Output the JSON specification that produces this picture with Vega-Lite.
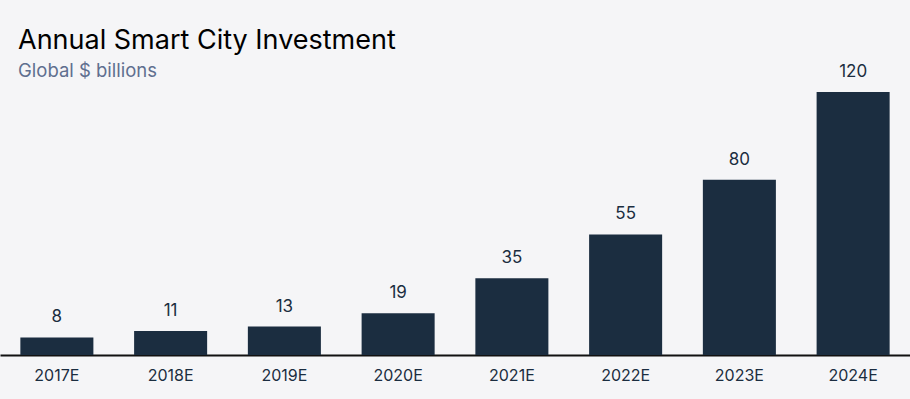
{
  "$schema": "https://vega.github.io/schema/vega-lite/v6.json",
  "width": 910,
  "height": 263,
  "autosize": {"type": "none"},
  "padding": {"left": 0, "right": 0, "top": 92, "bottom": 44},
  "background": "#f5f5f7",
  "config": {"view": {"stroke": null}, "font": "Inter"},
  "title": {
    "text": "Annual Smart City Investment",
    "subtitle": "Global $ billions",
    "anchor": "start",
    "frame": "group",
    "dx": 18,
    "offset": -18,
    "font": "Inter",
    "fontSize": 27,
    "fontWeight": "normal",
    "color": "#000000",
    "subtitleFont": "Inter",
    "subtitleFontSize": 18.5,
    "subtitleColor": "#5f6f8f",
    "subtitlePadding": 7
  },
  "data": {
    "values": [
      {"year": "2017E", "value": 8},
      {"year": "2018E", "value": 11},
      {"year": "2019E", "value": 13},
      {"year": "2020E", "value": 19},
      {"year": "2021E", "value": 35},
      {"year": "2022E", "value": 55},
      {"year": "2023E", "value": 80},
      {"year": "2024E", "value": 120}
    ]
  },
  "encoding": {
    "x": {
      "field": "year",
      "type": "nominal",
      "sort": null,
      "scale": {"paddingInner": 0.358, "paddingOuter": 0.179},
      "axis": {
        "title": null,
        "ticks": false,
        "labelAngle": 0,
        "labelPadding": 12,
        "labelFontSize": 16,
        "labelColor": "#1b2d40",
        "domainColor": "#111111",
        "domainWidth": 2
      }
    },
    "y": {
      "field": "value",
      "type": "quantitative",
      "scale": {"domain": [0, 120], "nice": false},
      "axis": null
    }
  },
  "layer": [
    {"mark": {"type": "bar", "color": "#1b2d40"}},
    {
      "mark": {"type": "text", "baseline": "bottom", "dy": -11, "fontSize": 17, "color": "#1b2d40"},
      "encoding": {"text": {"field": "value", "type": "quantitative"}}
    }
  ]
}
